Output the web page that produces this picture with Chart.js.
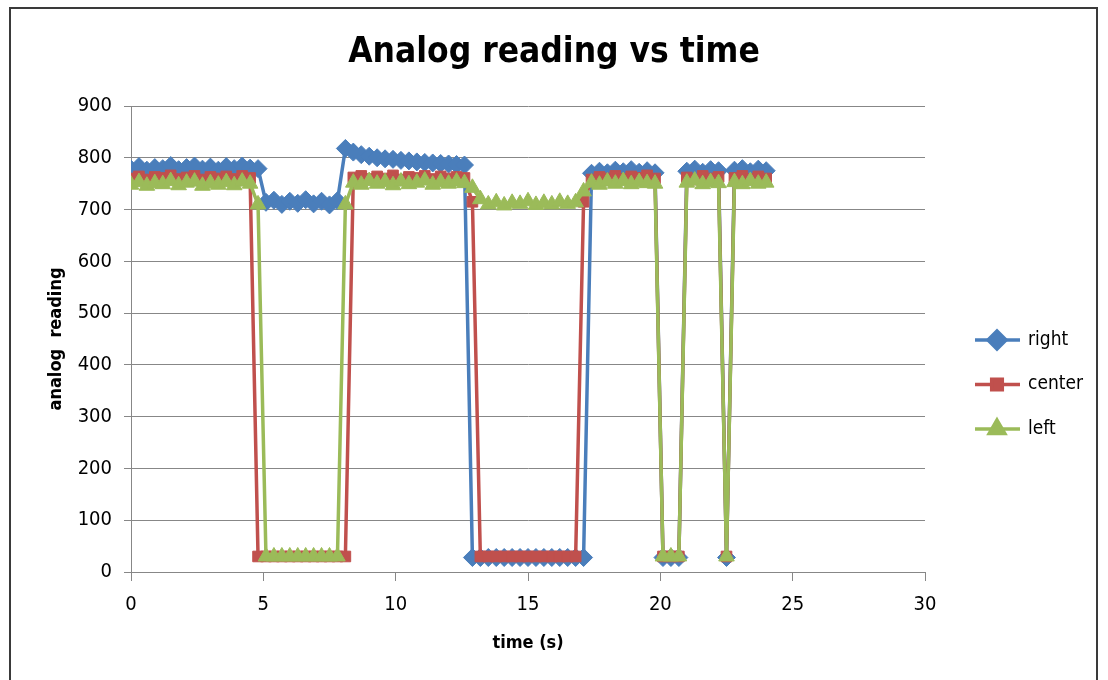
<!DOCTYPE html>
<html>
<head>
<meta charset="utf-8">
<script src="https://cdn.jsdelivr.net/npm/chart.js@4.4.0/dist/chart.umd.min.js"></script>
<style>
  body { margin: 0; background: #fff; }
  #wrap { position: relative; width: 1108px; height: 680px; overflow: hidden; }
  #frame { position: absolute; left: 9px; top: 7px; width: 1089px; height: 700px; border: 2px solid #3a3a3a; box-sizing: border-box; pointer-events: none; }
  canvas { position: absolute; left: 0; top: 0; }
</style>
</head>
<body>
<div id="wrap">
  <canvas id="chart" width="1108" height="680"></canvas>
  <div id="frame"></div>
</div>
<script>
// time in seconds
const times = [0, 0.3, 0.6, 0.9, 1.2, 1.5, 1.8, 2.1, 2.4, 2.7, 3, 3.3, 3.6, 3.9, 4.2, 4.5, 4.8,
  5.1, 5.4, 5.7, 6, 6.3, 6.6, 6.9, 7.2, 7.5, 7.8, 8.1, 8.4, 8.7, 9, 9.3, 9.6, 9.9, 10.2, 10.5,
  10.8, 11.1, 11.4, 11.7, 12, 12.3, 12.6, 12.9, 13.2, 13.5, 13.8, 14.1, 14.4, 14.7, 15, 15.3,
  15.6, 15.9, 16.2, 16.5, 16.8, 17.1, 17.4, 17.7, 18, 18.3, 18.6, 18.9, 19.2, 19.5, 19.8, 20.1,
  20.4, 20.7, 21, 21.3, 21.6, 21.9, 22.2, 22.5, 22.8, 23.1, 23.4, 23.7, 24];

const right = [778, 783, 776, 781, 779, 785, 777, 781, 784, 778, 782, 776, 783, 779, 784, 780, 779,
  714, 718, 710, 716, 712, 719, 711, 716, 709, 717,
  818, 811, 806, 803, 800, 798, 797, 795, 794, 792, 791, 790, 789, 788, 787, 786,
  28, 28, 28, 28, 28, 28, 28, 28, 28, 28, 28, 28, 28, 28, 28,
  770, 774, 771, 776, 773, 777, 772, 775, 771,
  28, 28, 28,
  774, 778, 772, 777, 775,
  28,
  776, 779, 773, 778, 775];

const center = [760, 764, 758, 763, 761, 766, 759, 762, 765, 758, 763, 760, 764, 759, 765, 761,
  30, 30, 30, 30, 30, 30, 30, 30, 30, 30, 30, 30,
  762, 765, 759, 764, 760, 766, 758, 763, 761, 765, 759, 764, 760, 763, 761,
  715,
  30, 30, 30, 30, 30, 30, 30, 30, 30, 30, 30, 30, 30,
  715,
  758, 763, 760, 765, 759, 764, 761, 766, 760,
  30, 30, 30,
  762, 758, 765, 760, 763,
  30,
  761, 765, 759, 764, 760];

const left = [748, 753, 746, 751, 749, 755, 747, 752, 754, 746, 751, 748, 753, 747, 754, 750,
  710,
  30, 30, 30, 30, 30, 30, 30, 30, 30, 30,
  710,
  752, 748, 755, 750, 753, 747, 754, 749, 752, 756, 748, 753, 750, 754, 751,
  742, 720,
  710, 714, 708, 713, 711, 716, 709, 713, 710, 715, 711, 714,
  735,
  752, 748, 754, 750, 755, 749, 753, 751, 750,
  30, 30, 30,
  752, 756, 749, 753, 751,
  30,
  753, 749, 755, 750, 752];

const seriesNames = ['right', 'center', 'left'];
const yTicks = [0, 100, 200, 300, 400, 500, 600, 700, 800, 900];
const xTicks = [0, 5, 10, 15, 20, 25, 30];

const FONT = "'Liberation Sans Narrow', 'Arial Narrow', 'DejaVu Sans Condensed', 'Liberation Sans', sans-serif";
const GRID = '#878787';

function toPoints(ys) {
  return times.map((t, i) => ({ x: t, y: ys[i] }));
}

const datasets = [
  { label: 'right', data: toPoints(right), borderColor: '#4a7ebb',
    pointStyle: 'rectRot', pointRadius: 9, order: 3 },
  { label: 'center', data: toPoints(center), borderColor: '#c0504d',
    pointStyle: 'rect', pointRadius: 7.5, order: 2 },
  { label: 'left', data: toPoints(left), borderColor: '#9bbb59',
    pointStyle: 'triangle', pointRadius: 9, order: 1 }
];
datasets.forEach(d => {
  d.showLine = true;
  d.borderWidth = 3.5;
  d.pointBorderWidth = 1;
  d.backgroundColor = d.borderColor;
  d.pointBorderColor = d.borderColor;
  d.pointBackgroundColor = d.borderColor;
  d.tension = 0;
});

// legend drawn as line + marker like the original
const lineLegend = {
  id: 'lineLegend',
  afterDraw(chart) {
    const { ctx, chartArea } = chart;
    const x0 = chartArea.right + 50;
    seriesNames.forEach((name, k) => {
      const ds = chart.data.datasets.find(d => d.label === name);
      const y = 340 + k * 44.5;
      ctx.save();
      ctx.strokeStyle = ds.borderColor;
      ctx.lineWidth = 3.5;
      ctx.beginPath();
      ctx.moveTo(x0, y);
      ctx.lineTo(x0 + 45, y);
      ctx.stroke();
      ctx.fillStyle = ds.borderColor;
      Chart.helpers.drawPoint(ctx, { pointStyle: ds.pointStyle, radius: ds.pointRadius, borderWidth: 1, rotation: 0 }, x0 + 22, y);
      ctx.fillStyle = '#000';
      ctx.font = '19px ' + FONT;
      ctx.textBaseline = 'middle';
      ctx.textAlign = 'left';
      ctx.fillText(name, x0 + 53, y);
      ctx.restore();
    });
  }
};

new Chart(document.getElementById('chart'), {
  type: 'scatter',
  data: { datasets: datasets },
  options: {
    responsive: false,
    animation: false,
    layout: { padding: 0 },
    plugins: {
      legend: { display: false },
      tooltip: { enabled: false },
      title: {
        display: true,
        text: 'Analog reading vs time',
        color: '#000',
        font: { family: FONT, size: 35, weight: 'bold' },
        padding: { top: 32, bottom: 32 }
      }
    },
    scales: {
      x: {
        type: 'linear',
        min: 0,
        max: 30,
        afterFit: s => { s.height = 108; },
        afterBuildTicks: s => { s.ticks = xTicks.map(v => ({ value: v })); },
        ticks: { color: '#000', padding: 12, font: { family: FONT, size: 20 } },
        grid: { drawOnChartArea: false, color: GRID, tickLength: 9 },
        border: { color: GRID, width: 1 },
        title: {
          display: true, text: 'time (s)', color: '#000',
          font: { family: FONT, size: 18, weight: 'bold' },
          padding: { top: 0, bottom: 26 }
        }
      },
      y: {
        type: 'linear',
        min: 0,
        max: 900,
        afterFit: s => { s.width = 131; },
        afterBuildTicks: s => { s.ticks = yTicks.map(v => ({ value: v })); },
        ticks: { color: '#000', padding: 12, font: { family: FONT, size: 20 } },
        grid: { color: GRID, tickLength: 7 },
        border: { color: GRID, width: 1 },
        title: {
          display: true, text: 'analog  reading', color: '#000',
          font: { family: FONT, size: 18, weight: 'bold' },
          padding: { top: 46, bottom: 0 }
        }
      },
      // empty right-hand box that leaves room for the legend
      legendSpace: {
        type: 'linear',
        position: 'right',
        min: 0,
        max: 1,
        afterFit: s => { s.width = 183; },
        ticks: { display: false },
        grid: { display: false },
        border: { display: false }
      }
    }
  },
  plugins: [lineLegend]
});
</script>
</body>
</html>
